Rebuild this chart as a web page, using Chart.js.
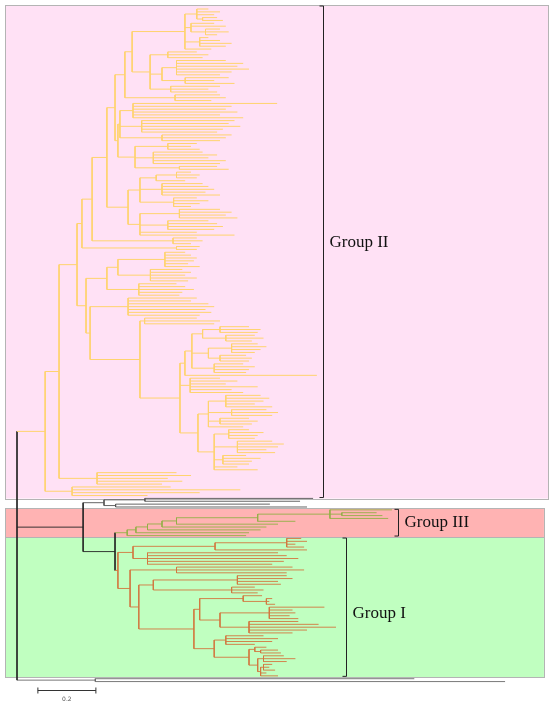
<!DOCTYPE html>
<html>
<head>
<meta charset="utf-8">
<script src="https://cdn.jsdelivr.net/npm/chart.js@4.4.1/dist/chart.umd.min.js"></script>
<style>
  html, body { margin: 0; padding: 0; background: #fff; }
  #wrap { width: 550px; height: 705px; position: relative; }
</style>
</head>
<body>
<div id="wrap"><canvas id="tree"></canvas></div>
<script>
// Tree data. A node is [depth, child, child, ...], a leaf is just its depth.
// Depth = distance from the root (substitutions per site, scale bar = 0.2).

// Group II sub-clades, top to bottom
const g2c1 = [0.579, [0.62, 0.66, 0.70, 0.68, [0.64, 0.69, 0.71]], [0.60, 0.68, 0.72, [0.65, 0.70, 0.73, 0.69]], [0.63, 0.66, 0.70, 0.74, 0.72], 0.67];
const g2c2 = [0.459, [0.52, 0.62, 0.66, 0.64], [0.50, [0.55, 0.72, 0.78, 0.76, 0.80, 0.74, 0.70], [0.58, 0.73, 0.68, 0.75]], [0.53, 0.70, 0.66, 0.69]];
const g2c3 = [0.545, 0.70, 0.72, 0.67];
const g2c4 = [0.355, [0.40, 0.897, 0.74, 0.72, 0.76, 0.70, 0.78], [0.43, 0.75, 0.73, 0.77, 0.71, 0.69], [0.50, 0.74, 0.72, 0.70]];
const g2c5 = [0.407, [0.52, 0.62, 0.60, 0.63], [0.47, 0.64, 0.69, 0.66, 0.72, 0.70], [0.56, 0.69, 0.73]];
const g2c6 = [0.424, [0.48, [0.55, 0.60, 0.63, 0.62], 0.58], [0.50, 0.64, 0.66, 0.68, 0.65, 0.70], [0.54, 0.62, 0.66, 0.63, 0.60]];
const g2c7 = [0.424, [0.56, 0.70, 0.74, 0.72, 0.76], [0.52, 0.66, 0.69, 0.71, 0.68], 0.62, 0.75];
const g2c8 = [0.538, 0.62, 0.64, 0.60];
const g2c9 = [0.55, 0.63, 0.62];
const g2c10 = [0.31, [0.348, [0.51, 0.58, 0.60, 0.62, 0.61, 0.59, 0.63], [0.46, 0.57, 0.60, 0.58, 0.62, 0.59]], [0.42, 0.55, 0.58, 0.61, 0.57, 0.56]];
const g2c11 = [0.383, 0.62, 0.60, 0.66, 0.68, 0.65, 0.67, 0.63];
const g2c12 = [0.44, 0.62, 0.70, 0.68];
const g2c13 = [0.603, [0.64, [0.70, 0.80, 0.84, 0.83], [0.72, 0.82, 0.85, 0.81]], [0.66, [0.74, 0.83, 0.86, 0.84, 0.82], [0.70, 0.79, 0.81, 0.80]], [0.68, 0.78, 0.82, 0.80, 0.79]];
const g2c15 = [0.597, 0.70, 0.76, 0.72, 0.83, 0.74, 0.78];
const g2c16 = [0.624, [0.66, [0.72, 0.84, 0.87, 0.85, 0.82, 0.88], [0.74, 0.86, 0.90, 0.88], [0.70, 0.80, 0.83, 0.81], 0.78],
                      [0.68, [0.73, 0.80, 0.85, 0.83, 0.82], [0.76, 0.88, 0.92, 0.90, 0.86, 0.89], [0.71, 0.79, 0.84, 0.81, 0.80], 0.76, 0.83]];
const g2c17 = [0.276, 0.55, 0.60, 0.52, 0.57, 0.50];
const g2c18 = [0.19, 0.53, 0.77, 0.63, 0.45];

const g2upper = [0.224, [0.259, [0.31, [0.338, [0.372, [0.397, g2c1, g2c2], g2c3], [0.348, g2c4, g2c5]], [0.383, g2c6, g2c7]], g2c8], g2c9];
const g2lower = [0.238, g2c10, [0.252, g2c11, [0.424, g2c12, [0.562, [0.579, g2c13, 1.034], g2c15, g2c16]]]];
const groupII = [0.097, [0.145, [0.207, g2upper, g2lower], g2c17], g2c18];

// small dark clade between Group II and Group III
const grayClade = [0.30, [0.441, 1.021, 0.976], [0.34, 0.872, 1.0]];

// Group III
const g3top = [1.079, 1.293, [1.12, 1.24, 1.26], 1.28];
const groupIII = [0.38, [0.41, [0.45, [0.50, [0.55, [0.83, g3top, 0.96], 0.90], 0.86], 0.84], 0.80], 0.79];

// Group I sub-clades
const g1a = [0.683, [0.93, 0.98, 1.0, 0.96, 0.99], 1.0];
const g1b = [0.45, 0.90, 0.93, 0.97, 0.92, 0.88];
const g1c = [0.55, 0.95, 0.99, 0.93];
const g1d = [0.76, 0.93, 0.95, 0.90, 0.91];
const g1e = [0.74, 0.82, 0.85, 0.83];
const g1f = [0.78, 0.845, [0.86, 0.88, 0.87, 0.89]];
const g1g = [0.87, 1.06, 0.95, 0.96, 0.94, 0.97];
const g1h = [0.80, 0.97, 1.04, 1.10, 1.0, 0.95];
const g1i = [0.72, 0.85, 0.90, 0.88, 0.82];
const g1j = [0.80, [0.82, 0.86, [0.84, 0.90, 0.91]], [0.83, [0.85, 0.92, 0.96, 0.93], [0.84, [0.85, 0.88, 0.87, 0.89], 0.86, 0.90]]];
const groupI = [0.348, [0.40, g1a, g1b], [0.39, g1c, [0.42, [0.47, g1d, g1e], [0.61, [0.63, g1f, [0.70, g1g, g1h]], [0.68, g1i, g1j]]]]];

// outgroup at the bottom
const outgroup = [0.27, 1.37, 1.683];

const groupNames = ["Group II", "Group III", "Group I"];
const groupLines = ["#FFD36E", "#93B046", "#D2773F"];
const groupFills = ["#FFE1F5", "#FFB3B3", "#C0FFC0"];
const grayLine = "#555555";
const backboneLine = "#222222";
const scaleBarLength = 0.2;
const scaleBarLabel = "0.2";

// ---- layout ----
const root = [0,
  { clade: groupII, color: groupLines[0], key: "II" },
  [0.228,
    { clade: grayClade, color: grayLine, key: "gray" },
    [0.338,
      { clade: groupIII, color: groupLines[1], key: "III" },
      { clade: groupI, color: groupLines[2], key: "I" }]],
  { clade: outgroup, color: "#6a6a6a", key: "out" }];

let leafCount = 0;
const segs = {};
const ranges = {};

function addSeg(color, x0, y0, x1, y1) {
  if (!segs[color]) segs[color] = [];
  segs[color].push({ x: x0, y: y0 }, { x: x1, y: y1 }, { x: x1, y: null });
}

function walk(node, color, parentDepth) {
  if (node && node.clade) {
    const first = leafCount;
    const y = walk(node.clade, node.color, parentDepth);
    ranges[node.key] = [first, leafCount - 1];
    return y;
  }
  if (typeof node === "number") {
    const y = leafCount++;
    addSeg(color, parentDepth, y, node, y);
    return y;
  }
  const depth = node[0];
  const ys = node.slice(1).map(c => walk(c, color, depth));
  const y = (ys[0] + ys[ys.length - 1]) / 2;
  addSeg(color, depth, ys[0], depth, ys[ys.length - 1]);
  if (parentDepth !== null) addSeg(color, parentDepth, y, depth, y);
  return y;
}
walk(root, backboneLine, null);

// pixel mapping of the full canvas
const topPx = 9, rowPx = 2.862, rootPx = 17, unitPx = 290;
const W = 550, H = 705;

const datasets = Object.keys(segs).map(color => ({
  data: segs[color],
  showLine: true,
  borderColor: color,
  borderWidth: color === groupLines[0] ? 1 : 0.9,
  pointRadius: 0,
  spanGaps: false
}));

const groupPlugin = {
  id: "groups",
  beforeDatasetsDraw(chart) {
    const { ctx, scales: { x, y } } = chart;
    const r2 = ranges.II, r3 = ranges.III, r1 = ranges.I;
    const split = y.getPixelForValue((r3[1] + r1[0]) / 2);
    const boxes = [
      [groupFills[0], x.getPixelForValue(-0.041), y.getPixelForValue(r2[0]) - 4, x.getPixelForValue(1.831), y.getPixelForValue(r2[1]) + 3],
      [groupFills[1], x.getPixelForValue(-0.041), y.getPixelForValue(r3[0]) - 1.5, x.getPixelForValue(1.817), split],
      [groupFills[2], x.getPixelForValue(-0.041), split, x.getPixelForValue(1.817), y.getPixelForValue(r1[1]) + 1.5]
    ];
    ctx.save();
    boxes.forEach(b => {
      ctx.fillStyle = b[0];
      ctx.fillRect(b[1], b[2], b[3] - b[1], b[4] - b[2]);
      ctx.strokeStyle = "#b4b4b4";
      ctx.lineWidth = 1;
      ctx.strokeRect(Math.round(b[1]) + 0.5, Math.round(b[2]) + 0.5, Math.round(b[3] - b[1]), Math.round(b[4] - b[2]));
    });
    ctx.restore();
    chart.$boxes = boxes;
  },
  afterDatasetsDraw(chart) {
    const { ctx, scales: { x, y } } = chart;
    const boxes = chart.$boxes;
    const bracketX = [1.055, 1.314, 1.134];
    const labelFrac = [0.48, 0.5, 0.55];
    const keys = ["II", "III", "I"];
    ctx.save();
    ctx.strokeStyle = "#222";
    ctx.lineWidth = 1;
    keys.forEach((k, i) => {
      const bx = Math.round(x.getPixelForValue(bracketX[i])) + 0.5;
      const y0 = boxes[i][2] + 1, y1 = boxes[i][4] - 1;
      ctx.beginPath();
      ctx.moveTo(bx - 4, y0); ctx.lineTo(bx, y0);
      ctx.lineTo(bx, y1); ctx.lineTo(bx - 4, y1);
      ctx.stroke();
      const r = ranges[k];
      const ly = y.getPixelForValue(r[0] + labelFrac[i] * (r[1] - r[0]));
      ctx.fillStyle = "#111";
      ctx.font = '17px "Liberation Serif"';
      ctx.textBaseline = "middle";
      ctx.fillText(groupNames[i], bx + 6, ly);
    });
    // scale bar
    const sx0 = x.getPixelForValue(0.072), sx1 = x.getPixelForValue(0.072 + scaleBarLength);
    const sy = 690.5;
    ctx.strokeStyle = "#333";
    ctx.beginPath();
    ctx.moveTo(sx0, sy); ctx.lineTo(sx1, sy);
    ctx.moveTo(sx0, sy - 3); ctx.lineTo(sx0, sy + 3);
    ctx.moveTo(sx1, sy - 3); ctx.lineTo(sx1, sy + 3);
    ctx.stroke();
    ctx.fillStyle = "#555";
    ctx.font = '6px "DejaVu Sans"';
    ctx.textAlign = "center";
    ctx.textBaseline = "middle";
    ctx.fillText(scaleBarLabel, (sx0 + sx1) / 2, 699);
    ctx.restore();
  }
};

const ctx = document.getElementById("tree").getContext("2d");
new Chart(ctx, {
  type: "scatter",
  data: { datasets: datasets },
  options: {
    responsive: true,
    maintainAspectRatio: false,
    animation: false,
    events: [],
    layout: { padding: 0 },
    plugins: { legend: { display: false }, tooltip: { enabled: false } },
    scales: {
      x: { type: "linear", display: false, min: -rootPx / unitPx, max: (W - rootPx) / unitPx },
      y: { type: "linear", display: false, reverse: true, min: -topPx / rowPx, max: (H - topPx) / rowPx }
    }
  },
  plugins: [groupPlugin]
});
</script>
</body>
</html>
